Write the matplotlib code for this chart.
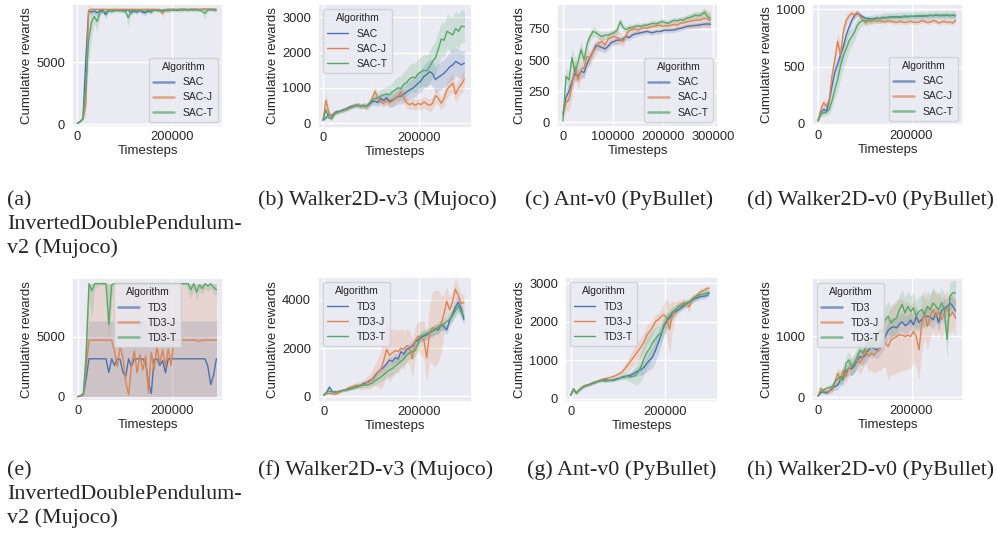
import numpy as np
import matplotlib
matplotlib.use('Agg')
import matplotlib.pyplot as plt
import seaborn as sns

sns.set_theme(style='darkgrid')
plt.rcParams['font.family'] = ['Liberation Sans', 'DejaVu Sans']
plt.rcParams['xtick.labelsize'] = 9.3
plt.rcParams['ytick.labelsize'] = 9.3
plt.rcParams['axes.labelsize'] = 9.5
plt.rcParams['legend.fontsize'] = 7.5
plt.rcParams['legend.title_fontsize'] = 7.5

# evaluation timesteps (every 6000 steps)
steps = np.arange(0, 300000, 6000)

# (a) InvertedDoublePendulum-v2, SAC
a_sac = [50, 200, 450, 5200, 9150, 9050, 9150, 9000, 9150, 9200,
         8850, 9200, 9250, 9200, 9250, 9250, 9150, 9200, 9250, 9000,
         9150, 9050, 9200, 9050, 9000, 9150, 9050, 9250, 9200, 9250,
         9150, 9250, 9280, 9250, 9280, 9200, 9280, 9280, 9280, 9250,
         9280, 9280, 9280, 9250, 9280, 9280, 9280, 9280, 9280, 9280]
a_sacj = [50, 200, 400, 1500, 9200, 9280, 9280, 9280, 9280, 9280,
          9280, 9270, 9280, 9280, 9280, 9270, 9280, 9280, 9280, 9280,
          9280, 9280, 9270, 9280, 9280, 9280, 9280, 9280, 9270, 9280,
          8950, 9200, 9280, 9280, 9280, 9270, 9280, 9280, 9280, 9280,
          9280, 9280, 9280, 9280, 9280, 9280, 9280, 9280, 9280, 9280]
a_sact = [50, 200, 450, 3000, 6800, 8200, 8700, 8300, 9000, 9100,
          9050, 9150, 9100, 9150, 9200, 9150, 9200, 9100, 8600, 9150,
          9200, 9150, 9200, 9150, 9100, 9200, 9150, 9200, 9200, 9150,
          9200, 9200, 9150, 9200, 9200, 9250, 9200, 9200, 9250, 9200,
          9250, 9200, 9250, 9200, 9150, 8950, 9200, 9250, 9200, 9200]
a_sac_err = [0, 50, 100, 1500, 150, 250, 200, 300, 200, 150,
             350, 150, 100, 120, 100, 100, 150, 120, 100, 250,
             150, 200, 150, 200, 250, 150, 200, 100, 100, 80,
             150, 80, 50, 80, 50, 100, 50, 50, 50, 50,
             50, 50, 50, 50, 50, 50, 50, 50, 50, 50]
a_sacj_err = [0, 50, 100, 800, 600, 50, 50, 50, 50, 50,
              50, 50, 50, 50, 50, 50, 50, 50, 50, 50,
              50, 50, 50, 50, 50, 50, 50, 50, 50, 50,
              300, 100, 50, 50, 50, 50, 50, 50, 50, 50,
              50, 50, 50, 50, 50, 50, 50, 50, 50, 50]
a_sact_err = [0, 50, 100, 1500, 1800, 1200, 600, 800, 300, 200,
              250, 200, 200, 150, 150, 200, 150, 200, 700, 200,
              150, 150, 150, 150, 150, 150, 150, 150, 150, 150,
              150, 150, 150, 150, 150, 150, 150, 150, 150, 150,
              150, 150, 150, 150, 150, 400, 150, 150, 150, 150]

# (b) Walker2D-v3 (Mujoco), SAC
b_sac = [80, 150, 250, 200, 300, 330, 340, 380, 400, 450,
         480, 500, 520, 480, 500, 470, 520, 600, 620, 580,
         700, 640, 720, 620, 650, 700, 760, 760, 820, 880,
         940, 980, 1050, 1130, 1200, 1320, 1380, 1460, 1400, 1230,
         1300, 1350, 1415, 1500, 1600, 1650, 1745, 1700, 1650, 1700]
b_sacj = [80, 650, 300, 150, 280, 300, 330, 370, 380, 430,
          460, 500, 520, 470, 490, 450, 550, 700, 900, 700,
          620, 560, 650, 580, 620, 700, 750, 880, 720, 580,
          520, 560, 500, 560, 520, 600, 540, 500, 560, 780,
          700, 560, 700, 950, 1050, 1130, 820, 1000, 1100, 1250]
b_sact = [80, 380, 150, 120, 250, 300, 330, 360, 390, 420,
          460, 480, 500, 470, 500, 480, 560, 640, 700, 720,
          760, 800, 820, 800, 880, 940, 1000, 980, 1100, 1150,
          1250, 1300, 1280, 1400, 1450, 1500, 1480, 1600, 1750, 1850,
          2100, 2380, 2350, 2600, 2550, 2500, 2680, 2600, 2750, 2730]
b_sac_err = [20, 60, 80, 60, 50, 50, 50, 60, 60, 60,
             60, 70, 70, 70, 80, 80, 90, 100, 120, 130,
             150, 150, 170, 180, 200, 200, 220, 230, 250, 250,
             260, 280, 300, 300, 320, 330, 350, 350, 360, 380,
             380, 400, 400, 400, 420, 420, 400, 400, 380, 380]
b_sacj_err = [20, 200, 120, 60, 50, 50, 50, 60, 60, 60,
              60, 60, 70, 70, 70, 80, 80, 100, 150, 120,
              120, 120, 130, 130, 140, 150, 150, 180, 180, 160,
              150, 150, 150, 150, 160, 160, 170, 170, 180, 200,
              200, 200, 220, 250, 250, 260, 250, 250, 260, 280]
b_sact_err = [20, 100, 60, 50, 50, 50, 50, 60, 60, 60,
              60, 60, 70, 70, 80, 80, 90, 100, 120, 150,
              180, 200, 220, 250, 270, 300, 320, 340, 360, 380,
              400, 400, 420, 420, 430, 440, 450, 450, 460, 470,
              480, 480, 480, 480, 500, 500, 500, 480, 480, 450]

# (c) Ant-v0 (PyBullet), SAC
c_sac = [75, 200, 250, 330, 390, 370, 410, 400, 470, 520,
         570, 620, 610, 600, 590, 610, 640, 650, 660, 660,
         670, 690, 680, 700, 710, 715, 720, 725, 730, 722,
         720, 730, 728, 735, 740, 738, 740, 742, 750, 755,
         760, 770, 772, 775, 778, 780, 785, 788, 790, 788]
c_sacj = [60, 160, 180, 300, 450, 340, 420, 440, 530, 510,
          570, 600, 640, 650, 620, 670, 680, 690, 680, 670,
          650, 700, 740, 745, 750, 740, 755, 760, 755, 765,
          770, 775, 780, 770, 775, 775, 780, 785, 780, 795,
          800, 805, 810, 815, 820, 820, 825, 835, 830, 820]
c_sact = [10, 370, 340, 520, 400, 480, 585, 500, 630, 690,
          730, 720, 700, 690, 700, 700, 710, 720, 740, 810,
          760, 745, 760, 760, 770, 775, 770, 780, 780, 790,
          795, 790, 800, 810, 800, 795, 810, 820, 815, 825,
          820, 835, 840, 850, 860, 855, 865, 885, 850, 835]
c_sac_err = [30, 60, 60, 60, 50, 50, 50, 45, 45, 40,
             40, 35, 35, 35, 30, 30, 30, 30, 30, 25,
             25, 25, 25, 25, 25, 20, 20, 20, 20, 20,
             20, 20, 20, 20, 20, 20, 20, 20, 20, 20,
             20, 20, 20, 20, 20, 20, 20, 20, 20, 20]
c_sacj_err = [30, 70, 90, 100, 90, 80, 80, 70, 70, 60,
              60, 55, 55, 55, 50, 50, 50, 60, 60, 50,
              45, 40, 40, 40, 35, 35, 35, 35, 35, 35,
              35, 35, 35, 35, 35, 40, 40, 40, 45, 45,
              50, 55, 60, 60, 60, 65, 65, 70, 70, 70]
c_sact_err = [10, 60, 70, 80, 80, 80, 70, 60, 50, 40,
              40, 35, 35, 35, 30, 30, 30, 30, 30, 30,
              30, 30, 30, 25, 25, 25, 25, 25, 25, 25,
              25, 25, 25, 25, 25, 25, 25, 25, 25, 25,
              25, 25, 30, 30, 30, 30, 30, 35, 35, 35]

# (d) Walker2D-v0 (PyBullet), SAC
d_sac = [25, 96, 125, 110, 200, 330, 450, 520, 600, 670,
         770, 840, 900, 945, 965, 950, 935, 920, 920, 915,
         920, 925, 920, 930, 925, 930, 935, 930, 935, 930,
         935, 940, 935, 940, 938, 940, 942, 940, 945, 942,
         948, 945, 950, 945, 948, 945, 950, 945, 948, 945]
d_sacj = [25, 125, 183, 150, 210, 420, 560, 720, 600, 800,
          900, 940, 965, 950, 975, 940, 905, 880, 900, 890,
          905, 895, 900, 895, 890, 900, 895, 890, 885, 895,
          890, 885, 890, 895, 888, 885, 890, 900, 895, 885,
          890, 900, 895, 880, 890, 895, 885, 890, 880, 905]
d_sact = [25, 81, 96, 100, 125, 200, 300, 385, 500, 590,
          650, 720, 760, 800, 860, 890, 905, 900, 905, 910,
          915, 920, 918, 925, 930, 928, 930, 935, 932, 935,
          938, 935, 940, 938, 940, 942, 940, 945, 942, 945,
          948, 945, 950, 948, 945, 950, 948, 945, 950, 945]
d_sac_err = [10, 25, 30, 30, 40, 50, 60, 60, 60, 50,
             50, 40, 30, 30, 25, 25, 20, 20, 20, 20,
             20, 20, 20, 20, 20, 20, 20, 20, 20, 20,
             20, 20, 20, 20, 20, 20, 20, 20, 20, 20,
             20, 20, 20, 20, 20, 20, 20, 20, 20, 20]
d_sacj_err = [10, 30, 40, 40, 50, 70, 80, 80, 80, 60,
              50, 40, 30, 30, 30, 25, 25, 25, 20, 20,
              20, 20, 20, 20, 20, 20, 20, 20, 20, 20,
              20, 20, 20, 20, 20, 20, 20, 20, 20, 20,
              20, 20, 20, 20, 20, 20, 20, 20, 20, 20]
d_sact_err = [10, 20, 30, 30, 40, 60, 80, 100, 110, 110,
              100, 90, 80, 70, 60, 50, 45, 40, 40, 40,
              40, 40, 40, 40, 40, 40, 40, 40, 40, 40,
              40, 40, 40, 40, 40, 40, 40, 40, 40, 40,
              40, 40, 40, 40, 40, 40, 40, 40, 40, 40]

# (e) InvertedDoublePendulum-v2, TD3 (bands given as lower/upper)
e_td3 = [0, 50, 150, 1500, 3150, 3150, 3150, 3150, 3150, 3150,
         3150, 2000, 3150, 2600, 3150, 3100, 2000, 1700, 3150, 2500,
         3150, 3150, 3150, 3150, 2800, 1200, 250, 3100, 3150, 2600,
         3000, 2000, 3150, 3150, 3150, 3150, 3150, 3150, 3150, 3150,
         3150, 3150, 3150, 3150, 3150, 3150, 2500, 1000, 1800, 3150]
e_td3j = [0, 50, 150, 2500, 4700, 4700, 4700, 4700, 4700, 4700,
          4700, 4700, 4700, 3800, 2500, 4200, 3200, 1200, 150, 2600,
          3800, 2000, 3500, 2200, 3400, 300, 3700, 2200, 4200, 2800,
          3900, 2500, 4000, 2600, 4700, 4700, 4700, 4700, 4700, 4700,
          4700, 4700, 4700, 4600, 4700, 4700, 4700, 4700, 4700, 4700]
e_td3t = [0, 100, 250, 3500, 9400, 8800, 9400, 9400, 9400, 9400,
          9400, 6000, 9300, 9400, 9400, 9400, 9400, 9400, 9400, 9400,
          9400, 9400, 9400, 9400, 9400, 9400, 9400, 9400, 9400, 9400,
          9400, 9400, 9400, 9400, 9400, 9400, 9400, 9400, 9400, 9400,
          8900, 9400, 8700, 9300, 9000, 9400, 9200, 9400, 9100, 8900]
e_td3_lo = [0] * 50
e_td3_hi = [0, 80, 250, 4000] + [6300] * 46
e_td3j_lo = [0] * 50
e_td3j_hi = [0, 80, 250, 7000] + [9400] * 46
e_td3t_lo = [0, 60, 150, 1500, 8000, 6500, 9000, 9200, 9300, 9300,
             9300, 4800, 8000, 9200, 9300, 9300, 9300, 9000, 8500, 9300,
             9300, 9200, 9300, 9300, 9300, 9300, 9300, 9300, 9300, 9300,
             9300, 9300, 9300, 9300, 9300, 9300, 9300, 9300, 9300, 8800,
             8200, 9000, 8000, 8800, 8500, 9000, 8700, 9000, 8600, 8300]
e_td3t_hi = [0, 150, 400, 6000] + [9400] * 46

# (f) Walker2D-v3 (Mujoco), TD3
f_td3 = [40, 150, 380, 200, 170, 190, 220, 250, 270, 310,
         340, 380, 420, 460, 540, 560, 650, 700, 850, 1000,
         1100, 1200, 1350, 1500, 1450, 1600, 1550, 1850, 1750, 1950,
         2000, 2100, 2250, 2350, 2450, 2500, 2550, 2650, 2700, 2800,
         2750, 2950, 2900, 2750, 3150, 3400, 3700, 3900, 3650, 3200]
f_td3j = [40, 100, 120, 100, 80, 120, 200, 250, 300, 370,
          400, 450, 460, 450, 480, 560, 600, 720, 900, 1000,
          1100, 1500, 1950, 1700, 1800, 1900, 1850, 2000, 1950, 2100,
          2050, 1550, 2300, 2500, 2400, 2350, 1600, 2600, 2850, 2800,
          2900, 3000, 3400, 3950, 3600, 3900, 4450, 4200, 3850, 3900]
f_td3t = [40, 180, 200, 180, 200, 190, 230, 250, 260, 290,
          320, 360, 400, 440, 460, 460, 500, 550, 650, 720,
          800, 900, 1000, 1100, 1150, 1250, 1350, 1450, 1550, 1700,
          1800, 1850, 1900, 2200, 2500, 2550, 2600, 2650, 2700, 2780,
          2850, 2950, 3000, 3100, 3200, 3350, 3550, 3750, 3500, 3340]
f_td3_err = [20, 40, 100, 60, 50, 50, 50, 50, 60, 60,
             60, 70, 70, 80, 90, 100, 100, 120, 130, 150,
             150, 160, 170, 180, 180, 190, 200, 200, 200, 200,
             200, 200, 200, 200, 200, 200, 200, 200, 200, 200,
             200, 200, 200, 200, 220, 250, 300, 350, 300, 250]
f_td3j_err = [20, 30, 40, 40, 40, 50, 60, 70, 80, 90,
              100, 120, 150, 180, 200, 250, 300, 350, 450, 600,
              800, 1000, 1100, 1100, 1000, 900, 900, 800, 800, 700,
              700, 800, 600, 600, 700, 800, 1000, 1200, 1500, 1600,
              1500, 1200, 800, 600, 500, 500, 500, 400, 400, 350]
f_td3t_err = [20, 40, 50, 50, 50, 50, 50, 50, 60, 60,
              60, 70, 70, 80, 90, 100, 100, 120, 150, 180,
              200, 220, 250, 280, 300, 300, 280, 250, 250, 250,
              250, 250, 250, 250, 230, 220, 220, 220, 220, 220,
              220, 230, 230, 230, 250, 250, 250, 280, 300, 250]

# (g) Ant-v0 (PyBullet), TD3
g_td3 = [90, 250, 140, 220, 280, 330, 350, 380, 400, 430,
         460, 480, 490, 480, 470, 490, 510, 530, 550, 560,
         590, 600, 640, 680, 720, 760, 820, 920, 1000, 1080,
         1250, 1450, 1650, 1900, 2000, 2100, 2200, 2250, 2300, 2350,
         2400, 2480, 2500, 2550, 2600, 2620, 2650, 2660, 2670, 2740]
g_td3j = [90, 250, 140, 220, 300, 340, 360, 380, 420, 440,
          470, 500, 520, 530, 550, 570, 600, 640, 680, 760,
          850, 950, 1050, 1150, 1250, 1350, 1480, 1650, 1750, 1850,
          2000, 2050, 2130, 2180, 2100, 1800, 2150, 2300, 2400, 2450,
          2500, 2450, 2380, 2600, 2650, 2700, 2780, 2800, 2850, 2870]
g_td3t = [90, 250, 150, 230, 290, 330, 350, 380, 420, 440,
          460, 470, 450, 460, 480, 470, 490, 520, 560, 580,
          580, 560, 580, 600, 700, 850, 1050, 1200, 1300, 1450,
          1550, 1650, 1700, 1850, 2050, 2150, 2250, 2300, 2380, 2400,
          2450, 2480, 2520, 2570, 2620, 2680, 2700, 2720, 2740, 2750]
g_td3_err = [20, 50, 40, 40, 40, 40, 40, 40, 40, 40,
             40, 40, 40, 40, 40, 40, 40, 40, 40, 50,
             60, 70, 80, 100, 120, 150, 180, 220, 250, 280,
             300, 300, 280, 250, 200, 150, 120, 100, 80, 80,
             80, 80, 70, 70, 70, 70, 70, 70, 70, 70]
g_td3j_err = [20, 50, 40, 40, 40, 40, 40, 40, 40, 40,
              40, 40, 40, 40, 40, 45, 50, 60, 80, 120,
              150, 200, 220, 250, 250, 250, 250, 250, 220, 200,
              180, 170, 180, 300, 500, 650, 400, 200, 150, 120,
              100, 100, 120, 100, 80, 80, 80, 80, 80, 80]
g_td3t_err = [20, 50, 40, 40, 40, 40, 40, 40, 40, 40,
              40, 40, 40, 40, 40, 40, 40, 50, 60, 80,
              100, 130, 180, 250, 320, 380, 400, 400, 380, 350,
              300, 250, 220, 200, 180, 160, 150, 130, 120, 100,
              100, 100, 100, 90, 90, 90, 90, 90, 90, 90]

# (h) Walker2D-v0 (PyBullet), TD3
h_td3 = [22, 80, 90, 70, 100, 150, 180, 200, 285, 340,
         420, 480, 470, 520, 610, 670, 650, 700, 780, 830,
         800, 780, 830, 890, 1000, 1100, 1140, 1160, 1140, 1200,
         1240, 1180, 1200, 1270, 1190, 1320, 1230, 1280, 1330, 1330,
         1320, 1270, 1380, 1230, 1420, 1460, 1490, 1550, 1500, 1420]
h_td3j = [22, 150, 100, 93, 110, 120, 250, 395, 285, 450,
          340, 480, 500, 560, 615, 560, 670, 780, 670, 725,
          700, 750, 780, 870, 890, 835, 945, 970, 1000, 1025,
          1025, 1000, 1020, 1000, 1080, 1000, 780, 1220, 1385, 1165,
          1330, 1440, 1330, 1410, 1275, 1385, 1470, 1330, 1400, 1300]
h_td3t = [22, 90, 120, 148, 160, 175, 250, 300, 340, 285,
          560, 615, 500, 560, 670, 780, 725, 835, 920, 835,
          880, 1000, 1110, 1055, 1275, 1330, 1220, 1275, 1300, 1440,
          1525, 1385, 1495, 1410, 1470, 1330, 1410, 1440, 1360, 1495,
          1440, 1550, 1495, 1440, 1550, 1440, 950, 1660, 1715, 1715]
h_td3_err = [10, 30, 30, 30, 40, 50, 60, 80, 90, 100,
             100, 110, 110, 120, 120, 130, 130, 130, 140, 140,
             140, 150, 150, 150, 150, 150, 150, 150, 150, 150,
             150, 150, 150, 150, 150, 150, 150, 150, 150, 150,
             150, 150, 150, 150, 150, 150, 150, 150, 150, 150]
h_td3j_err = [10, 40, 40, 40, 50, 60, 80, 100, 100, 120,
              120, 130, 140, 150, 160, 180, 200, 220, 250, 280,
              300, 320, 350, 380, 400, 550, 580, 600, 600, 600,
              580, 560, 550, 520, 500, 500, 500, 450, 400, 380,
              350, 350, 350, 330, 330, 300, 300, 300, 300, 300]
h_td3t_err = [10, 40, 40, 40, 50, 60, 80, 100, 110, 120,
              130, 140, 150, 150, 160, 170, 180, 190, 200, 200,
              200, 210, 220, 230, 240, 250, 250, 250, 250, 250,
              250, 250, 250, 250, 250, 250, 250, 250, 250, 250,
              250, 250, 250, 250, 260, 270, 300, 250, 200, 200]

sac_labels = ['SAC', 'SAC-J', 'SAC-T']
td3_labels = ['TD3', 'TD3-J', 'TD3-T']


def band(mean, err):
    m = np.array(mean, float)
    e = np.array(err, float)
    return m, m - e, m + e


panels = [
    # box (px: left, top, right, bottom), xlim, ylim, xticks, yticks, series, labels, legend loc, thick legend
    dict(box=(72, 4, 223, 127), xlim=(-11200, 308700), ylim=(-240, 9710),
         xt=[0, 200000], yt=[0, 5000],
         series=[band(a_sac, a_sac_err), band(a_sacj, a_sacj_err), band(a_sact, a_sact_err)],
         labels=sac_labels, loc='lower right', thick=True),
    dict(box=(318, 4, 472, 128), xlim=(-10450, 310000), ylim=(-141, 3376),
         xt=[0, 200000], yt=[0, 1000, 2000, 3000],
         series=[band(b_sac, b_sac_err), band(b_sacj, b_sacj_err), band(b_sact, b_sact_err)],
         labels=sac_labels, loc='upper left', thick=False),
    dict(box=(557, 4, 718, 127), xlim=(-11900, 309000), ylim=(-37, 950),
         xt=[0, 100000, 200000, 300000], yt=[0, 250, 500, 750],
         series=[band(c_sac, c_sac_err), band(c_sacj, c_sacj_err), band(c_sact, c_sact_err)],
         labels=sac_labels, loc='lower right', thick=True),
    dict(box=(812, 4, 963, 126), xlim=(-12800, 310000), ylim=(-20, 1047),
         xt=[0, 200000], yt=[0, 500, 1000],
         series=[band(d_sac, d_sac_err), band(d_sacj, d_sacj_err), band(d_sact, d_sact_err)],
         labels=sac_labels, loc='lower right', thick=True),
    dict(box=(72, 278, 223, 401), xlim=(-12000, 308000), ylim=(-361, 9870),
         xt=[0, 200000], yt=[0, 5000],
         series=[(np.array(e_td3, float), e_td3_lo, e_td3_hi),
                 (np.array(e_td3j, float), e_td3j_lo, e_td3j_hi),
                 (np.array(e_td3t, float), e_td3t_lo, e_td3t_hi)],
         labels=td3_labels, loc='upper center', thick=True),
    dict(box=(318, 277, 472, 402), xlim=(-11900, 311000), ylim=(-240, 4956),
         xt=[0, 200000], yt=[0, 2000, 4000],
         series=[band(f_td3, f_td3_err), band(f_td3j, f_td3j_err), band(f_td3t, f_td3t_err)],
         labels=td3_labels, loc='upper left', thick=False),
    dict(box=(565, 277, 718, 402), xlim=(-12000, 313000), ylim=(-87, 3158),
         xt=[0, 200000], yt=[0, 1000, 2000, 3000],
         series=[band(g_td3, g_td3_err), band(g_td3j, g_td3j_err), band(g_td3t, g_td3t_err)],
         labels=td3_labels, loc='upper left', thick=False),
    dict(box=(812, 278, 963, 401), xlim=(-12800, 310000), ylim=(-60, 1960),
         xt=[0, 200000], yt=[0, 1000],
         series=[band(h_td3, h_td3_err), band(h_td3j, h_td3j_err), band(h_td3t, h_td3t_err)],
         labels=td3_labels, loc='upper left', thick=True),
]

captions = [
    (7, 205, '(a)'), (7, 229, 'InvertedDoublePendulum-'), (7, 253, 'v2 (Mujoco)'),
    (258, 205, '(b) Walker2D-v3 (Mujoco)'),
    (525, 205, '(c) Ant-v0 (PyBullet)'),
    (747, 205, '(d) Walker2D-v0 (PyBullet)'),
    (7, 475, '(e)'), (7, 499, 'InvertedDoublePendulum-'), (7, 523, 'v2 (Mujoco)'),
    (258, 475, '(f) Walker2D-v3 (Mujoco)'),
    (527, 475, '(g) Ant-v0 (PyBullet)'),
    (747, 475, '(h) Walker2D-v0 (PyBullet)'),
]

colors = sns.color_palette('deep')[:3]
W, H = 997, 537
fig = plt.figure(figsize=(W / 100, H / 100), dpi=100)

for p in panels:
    x0, y0, x1, y1 = p['box']
    ax = fig.add_axes([x0 / W, 1 - y1 / H, (x1 - x0) / W, (y1 - y0) / H])
    for (m, lo, hi), lab, col in zip(p['series'], p['labels'], colors):
        ax.fill_between(steps, lo, hi, color=col, alpha=0.2, lw=0)
        ax.plot(steps, m, color=col, lw=1.0, label=lab)
    ax.set_xlim(*p['xlim'])
    ax.set_ylim(*p['ylim'])
    ax.set_xticks(p['xt'])
    ax.set_yticks(p['yt'])
    ax.set_xlabel('Timesteps', labelpad=1.5)
    ax.set_ylabel('Cumulative rewards', labelpad=2)
    ax.tick_params(axis='x', length=0, pad=3)
    ax.tick_params(axis='y', length=0, pad=5)
    leg = ax.legend(title='Algorithm', loc=p['loc'])
    if p['thick']:
        for ln in leg.get_lines():
            ln.set_linewidth(1.8)
            ln.set_alpha(0.7)

for x, y, s in captions:
    fig.text(x / W, 1 - y / H, s, family='Liberation Serif', fontsize=15.8,
             ha='left', va='baseline')

fig.savefig('out.png', dpi=100)
